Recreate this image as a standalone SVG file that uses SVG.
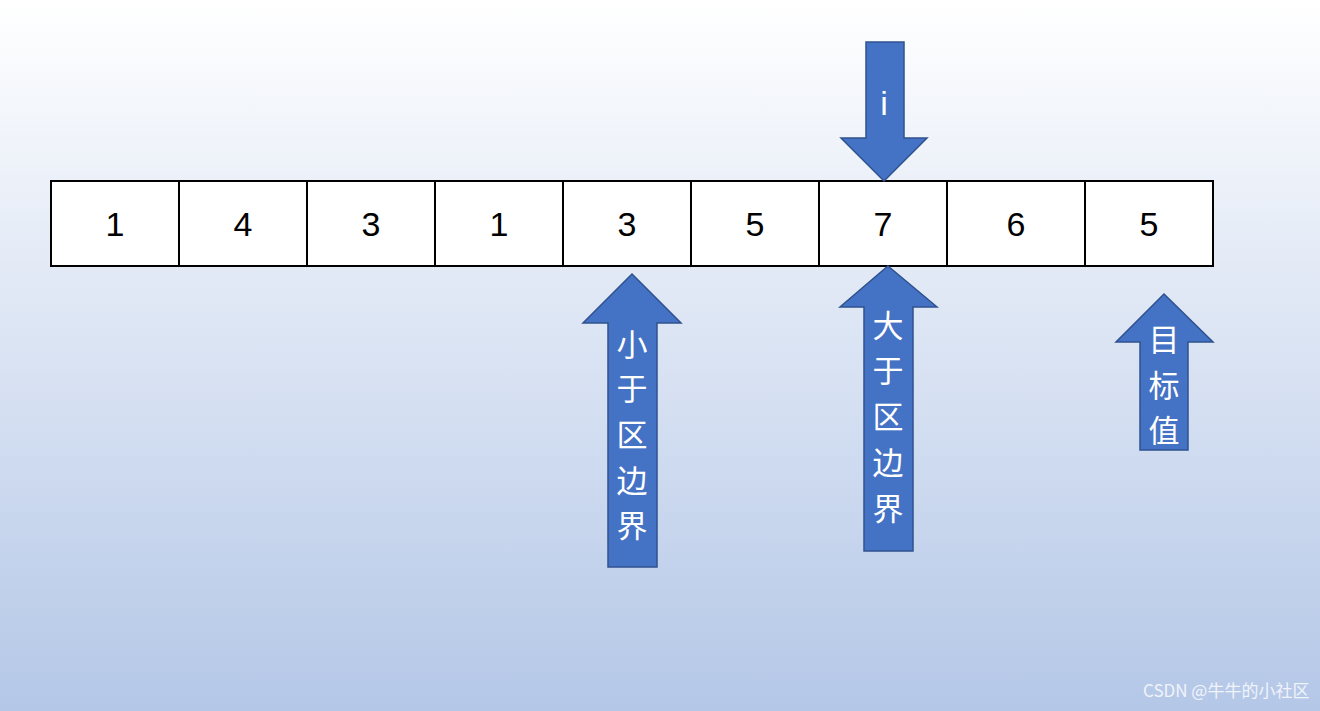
<svg xmlns="http://www.w3.org/2000/svg" width="1320" height="711" viewBox="0 0 1320 711">
<defs>
<linearGradient id="bg" x1="0" y1="0" x2="0" y2="1"><stop offset="0" stop-color="#ffffff"/><stop offset="1" stop-color="#b4c7e7"/></linearGradient>
</defs>
<style>
.cell{fill:#fff;stroke:#000;stroke-width:2}
.num{font-family:"Liberation Sans",Arial,sans-serif;font-size:34px;fill:#000;text-anchor:middle}
.arr{fill:#4472c4;stroke:#2f528f;stroke-width:1.5}
.lbl{font-family:"Noto Sans CJK SC","Liberation Sans",sans-serif;font-size:31px;fill:#fff;text-anchor:middle}
.wm{font-family:"Noto Sans CJK SC","Liberation Sans",sans-serif;font-size:17px;fill:#fff;opacity:0.8}
</style>
<rect width="1320" height="711" fill="url(#bg)"/>
<g id="array">
<rect class="cell" x="51" y="181" width="128" height="85"/>
<rect class="cell" x="179" y="181" width="128" height="85"/>
<rect class="cell" x="307" y="181" width="128" height="85"/>
<rect class="cell" x="435" y="181" width="128" height="85"/>
<rect class="cell" x="563" y="181" width="128" height="85"/>
<rect class="cell" x="691" y="181" width="128" height="85"/>
<rect class="cell" x="819" y="181" width="128" height="85"/>
<rect class="cell" x="947" y="181" width="138" height="85"/>
<rect class="cell" x="1085" y="181" width="128" height="85"/>
<text class="num" x="115" y="236">1</text>
<text class="num" x="243" y="236">4</text>
<text class="num" x="371" y="236">3</text>
<text class="num" x="499" y="236">1</text>
<text class="num" x="627" y="236">3</text>
<text class="num" x="755" y="236">5</text>
<text class="num" x="883" y="236">7</text>
<text class="num" x="1016" y="236">6</text>
<text class="num" x="1149" y="236">5</text>
</g>
<g id="connectors">
<g id="arrow-i">
<polygon class="arr" points="866,42 904,42 904,138 927,138 884,181 841,138 866,138"/>
<text class="num" x="884" y="115" style="fill:#fff">i</text>
</g>
<g id="arrow-less">
<polygon class="arr" points="632,274 681,323 657,323 657,567 608,567 608,323 583,323"/>
<text class="lbl" x="632" y="356">小</text>
<text class="lbl" x="632" y="400">于</text>
<text class="lbl" x="632" y="446">区</text>
<text class="lbl" x="632" y="492">边</text>
<text class="lbl" x="632" y="537">界</text>
</g>
<g id="arrow-greater">
<polygon class="arr" points="888,266 937,307 913,307 913,551 864,551 864,307 840,307"/>
<text class="lbl" x="888" y="337">大</text>
<text class="lbl" x="888" y="382">于</text>
<text class="lbl" x="888" y="428">区</text>
<text class="lbl" x="888" y="474">边</text>
<text class="lbl" x="888" y="520">界</text>
</g>
<g id="arrow-target">
<polygon class="arr" points="1164,294 1213,342 1188,342 1188,450 1140,450 1140,342 1116,342"/>
<text class="lbl" x="1164" y="351">目</text>
<text class="lbl" x="1164" y="397">标</text>
<text class="lbl" x="1164" y="442">值</text>
</g>
</g>
<text class="wm" x="1143" y="697">CSDN @牛牛的小社区</text>
</svg>
